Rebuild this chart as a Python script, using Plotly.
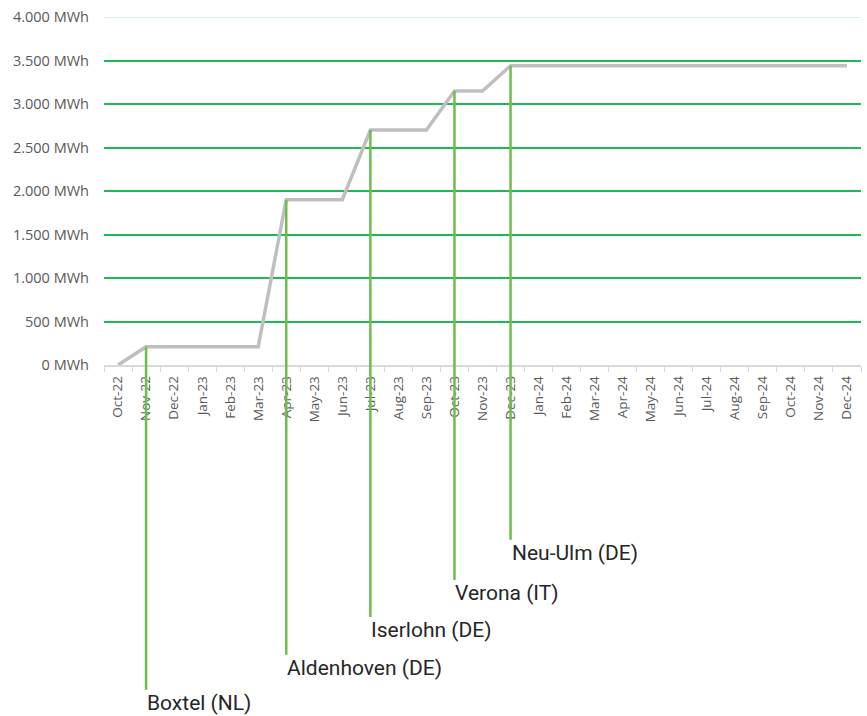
import plotly.graph_objects as go

# Cumulative installed storage energy per month
months = ["Oct-22", "Nov-22", "Dec-22", "Jan-23", "Feb-23", "Mar-23", "Apr-23",
          "May-23", "Jun-23", "Jul-23", "Aug-23", "Sep-23", "Oct-23", "Nov-23",
          "Dec-23", "Jan-24", "Feb-24", "Mar-24", "Apr-24", "May-24", "Jun-24",
          "Jul-24", "Aug-24", "Sep-24", "Oct-24", "Nov-24", "Dec-24"]
energy_mwh = [0, 210, 210, 210, 210, 210, 1900,
              1900, 1900, 2700, 2700, 2700, 3150, 3150,
              3440, 3440, 3440, 3440, 3440, 3440, 3440,
              3440, 3440, 3440, 3440, 3440, 3440]

# Sites commissioned and the month they came online
site_names = ["Boxtel (NL)", "Aldenhoven (DE)", "Iserlohn (DE)", "Verona (IT)", "Neu-Ulm (DE)"]
site_months = ["Nov-22", "Apr-23", "Jul-23", "Oct-23", "Dec-23"]

# Y axis ticks
y_tickvals = [0, 500, 1000, 1500, 2000, 2500, 3000, 3500, 4000]
y_ticktext = ["0 MWh", "500 MWh", "1.000 MWh", "1.500 MWh", "2.000 MWh",
              "2.500 MWh", "3.000 MWh", "3.500 MWh", "4.000 MWh"]

# Pixel drop of each site label below its point
label_drop = [343, 455, 487, 489, 474]

fig = go.Figure()
fig.add_trace(go.Scatter(
    x=months, y=energy_mwh, mode="lines",
    line=dict(color="#BFBFBF", width=3.5),
    hoverinfo="skip", showlegend=False,
))

for name, m, drop in zip(site_names, site_months, label_drop):
    val = energy_mwh[months.index(m)]
    fig.add_annotation(
        x=m, y=val, text=name,
        showarrow=True, arrowhead=0, arrowwidth=2.5, arrowcolor="#6CBF4B",
        ax=0, ay=drop, axref="pixel", ayref="pixel",
        xanchor="left", yanchor="top", borderpad=0, standoff=0, startstandoff=0,
        font=dict(family="Roboto", size=21, color="#262626"),
    )

# lighter top gridline
fig.add_shape(type="line", xref="paper", yref="y", x0=0, x1=1, y0=4000, y1=4000,
              line=dict(color="#CDEFD9", width=1.5), layer="above")

fig.update_layout(
    width=867, height=716,
    margin=dict(l=104, r=6, t=17, b=351),
    plot_bgcolor="white", paper_bgcolor="white",
    font=dict(family="Open Sans", color="#595959"),
    xaxis=dict(
        type="category", categoryorder="array", categoryarray=months,
        range=[-0.5, len(months) - 0.5],
        tickangle=-90, tickfont=dict(family="Open Sans", size=13.5, color="#595959"),
        showline=True, linecolor="#D9D9D9", linewidth=1.5,
        ticks="outside", tickson="boundaries", ticklen=5, tickcolor="#D9D9D9",
        ticklabelstandoff=4,
        showgrid=False, zeroline=False, fixedrange=True,
    ),
    yaxis=dict(
        range=[0, 4000], tickvals=y_tickvals, ticktext=y_ticktext,
        tickfont=dict(family="Open Sans", size=14.5, color="#595959"),
        showgrid=True, gridcolor="#1DB954", gridwidth=1.5,
        zeroline=False, showline=False, ticks="", ticklabelstandoff=14,
        fixedrange=True,
    ),
)

fig.write_html("out.html")
